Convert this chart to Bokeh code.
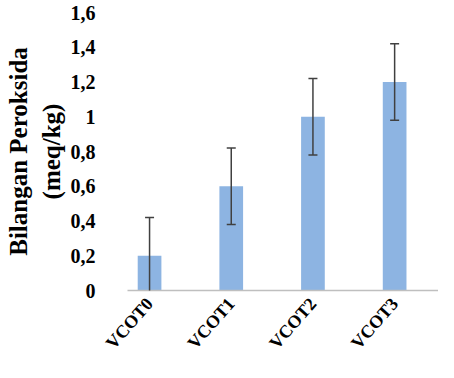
from bokeh.plotting import figure
from bokeh.models import ColumnDataSource, Range1d, FixedTicker, Whisker, TeeHead
from bokeh.embed import file_html
from bokeh.resources import INLINE

categories = ["VCOT0", "VCOT1", "VCOT2", "VCOT3"]
values = [0.2, 0.6, 1.0, 1.2]
errors = [0.22, 0.22, 0.22, 0.22]
y_ticks = [0, 0.2, 0.4, 0.6, 0.8, 1, 1.2, 1.4, 1.6]
y_tick_labels = ["0", "0,2", "0,4", "0,6", "0,8", "1", "1,2", "1,4", "1,6"]

xs = list(range(len(categories)))
src = ColumnDataSource(dict(
    x=xs, top=values,
    upper=[v + e for v, e in zip(values, errors)],
    lower=[v - e for v, e in zip(values, errors)],
))

p = figure(width=438, height=362, output_backend="svg", toolbar_location=None,
           x_range=Range1d(-0.27, 3.537), y_range=Range1d(0, 1.6),
           min_border_left=127, min_border_right=0, min_border_top=12, min_border_bottom=70)
p.outline_line_color = None
p.background_fill_color = "white"
p.border_fill_color = "white"
p.xgrid.visible = False
p.ygrid.visible = False

p.vbar(x="x", top="top", width=0.29, source=src, fill_color="#8DB4E2", line_color=None)

w = Whisker(source=src, base="x", upper="upper", lower="lower", level="overlay",
            line_color="#404040", line_width=1.5,
            upper_head=TeeHead(size=9, line_color="#404040", line_width=1.5),
            lower_head=TeeHead(size=9, line_color="#404040", line_width=1.5))
p.add_layout(w)

font = "Liberation Serif"
p.xaxis.ticker = FixedTicker(ticks=xs)
p.xaxis.major_label_overrides = {i: c for i, c in zip(xs, categories)}
p.xaxis.major_label_orientation = 0.85
p.xaxis.major_label_text_font = font
p.xaxis.major_label_text_font_style = "bold"
p.xaxis.major_label_text_font_size = "18px"
p.xaxis.major_label_text_color = "black"
p.xaxis.major_label_standoff = 4
p.xaxis.major_tick_line_color = None
p.xaxis.minor_tick_line_color = None
p.xaxis.axis_line_color = "#BFBFBF"
p.xaxis.axis_line_width = 1.5

p.yaxis.ticker = FixedTicker(ticks=y_ticks)
p.yaxis.major_label_overrides = {t: l for t, l in zip(y_ticks, y_tick_labels)}
p.yaxis.major_label_text_font = font
p.yaxis.major_label_text_font_style = "bold"
p.yaxis.major_label_text_font_size = "20px"
p.yaxis.major_label_text_color = "black"
p.yaxis.major_tick_line_color = None
p.yaxis.minor_tick_line_color = None
p.yaxis.axis_line_color = None
p.yaxis.major_label_standoff = 26
p.yaxis.axis_label = "Bilangan Peroksida\n(meq/kg)"
p.yaxis.axis_label_text_font = font
p.yaxis.axis_label_text_font_style = "bold"
p.yaxis.axis_label_text_font_size = "25px"
p.yaxis.axis_label_text_color = "black"
p.yaxis.axis_label_standoff = 3

open("out.html", "w").write(file_html(p, INLINE))
